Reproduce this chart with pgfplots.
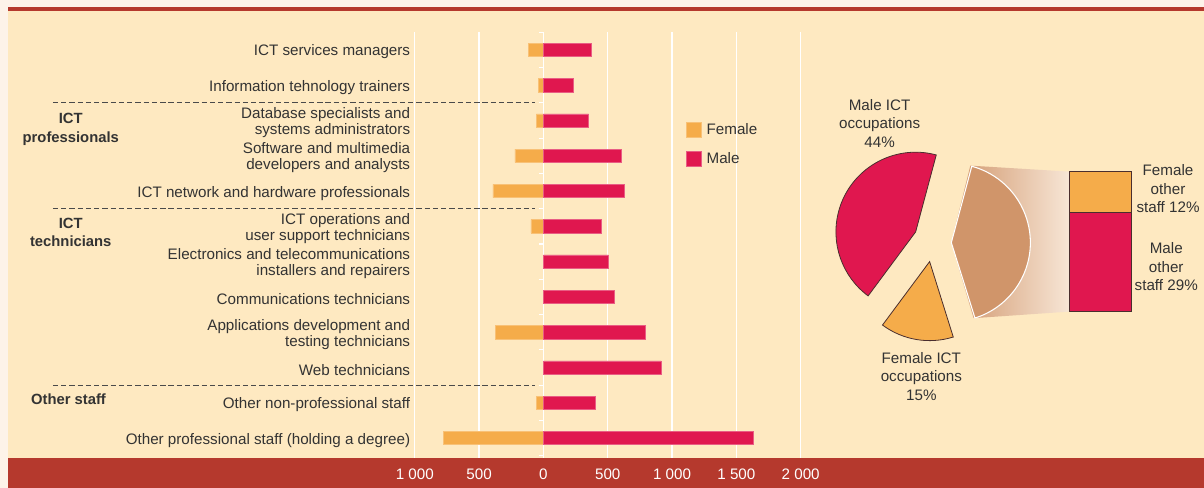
\documentclass[border=0pt]{standalone}
\usepackage{pgfplots}
\pgfplotsset{compat=1.18}
\usepackage{fontspec}
\setmainfont{Liberation Sans}
\definecolor{outerbg}{HTML}{FDF3E9}
\definecolor{panel}{HTML}{FEE9C1}
\definecolor{band}{HTML}{B5392D}
\definecolor{male}{HTML}{E0174F}
\definecolor{female}{HTML}{F5AC4A}
\definecolor{tanc}{HTML}{D0956A}
\definecolor{fadec}{HTML}{F7E6D6}
\definecolor{textc}{HTML}{333333}
\definecolor{dashc}{HTML}{4A4A4A}
\definecolor{outl}{HTML}{4A2E2E}
\newcommand\lbl{\fontsize{11.4}{11.8}\selectfont}
\newcommand\plbl{\fontsize{11.4}{13.8}\selectfont}
\newcommand\glbl{\bfseries\fontsize{11.1}{13.8}\selectfont}
% pie shares (%)
\def\pMaleICT{44}
\def\pFemaleICT{15}
\def\pOther{41}
\begin{document}
\begin{tikzpicture}
\pgfmathsetmacro\aStart{75}
\pgfmathsetmacro\aMaleEnd{\aStart+3.6*\pMaleICT}
\pgfmathsetmacro\aFemEnd{\aMaleEnd+3.6*\pFemaleICT}
\pgfmathsetmacro\aOthEnd{\aFemEnd+3.6*\pOther}
\begin{scope}[x=0.75pt,y=-0.75pt]
\path[use as bounding box] (0,0) rectangle (1204,488);
\fill[outerbg] (0,0) rectangle (1204,488);
\fill[panel] (8,11) rectangle (1204,458);
\fill[band] (8,458) rectangle (1204,488);
\fill[band] (8,7) rectangle (1204,11);
\coordinate (barsw) at (415,458);
\coordinate (pienw) at (800,0);
\coordinate (stacksw) at (1070,311.7);
\end{scope}

\begin{axis}[
  at={(barsw)}, anchor=south west,
  scale only axis, width=289.5pt, height=319.3pt,
  xmin=-1000, xmax=2000, ymin=0.5, ymax=12.56, y dir=reverse,
  enlargelimits=false, clip=false,
  axis line style={draw=none}, major tick length=0pt,
  xtick={-1000,-500,0,500,1000,1500,2000},
  xticklabels={1\ 000,500,0,500,1\ 000,1\ 500,2\ 000},
  xticklabel style={text=white, font=\lbl, anchor=center, yshift=-12.4pt},
  xmajorgrids, grid style={white, line width=1pt},
  ytick={1,...,12},
  yticklabels={{ICT services managers},{Information tehnology trainers},{Database specialists and\\systems administrators},{Software and multimedia\\developers and analysts},{ICT network and hardware professionals},{ICT operations and\\user support technicians},{Electronics and telecommunications\\installers and repairers},{Communications technicians},{Applications development and\\testing technicians},{Web technicians},{Other non-professional staff},{Other professional staff (holding a degree)}},
  yticklabel style={align=right, text=textc, font=\lbl, yshift=-1.6pt},
  xbar, bar width=10pt,
  legend image code/.code={\fill[#1] (0pt,-5.4pt) rectangle (11.2pt,5.4pt);},
  legend cell align=left,
  legend style={at={(axis cs:1105,3.0)}, anchor=north west, draw=none, fill=none,
    font=\lbl, text=textc, row sep=8pt, inner sep=0pt,
    /tikz/every odd column/.append style={column sep=2pt}},
]
\addplot[fill=female, draw=female!75!white, line width=0.4pt, bar shift=0pt]
  coordinates {(-115,1) (-40,2) (-55,3) (-222,4) (-393,5) (-97,6) (-374,9) (-54,11) (-780,12)};
\addlegendentry{Female}
\addplot[fill=male, draw=male!70!white, line width=0.4pt, bar shift=0pt]
  coordinates {(370,1) (234,2) (351,3) (603,4) (629,5) (450,6) (505,7) (548,8) (790,9) (914,10) (405,11) (1633,12)};
\addlegendentry{Male}
\pgfplotsinvokeforeach{0.5,1.5,...,12.5}{
  \draw[white, line width=0.8pt] (axis cs:-31,#1) -- (axis cs:0,#1);
}
\draw[dashc, line width=0.8pt, dash pattern=on 4pt off 2.2pt] (axis cs:-3815,2.5) -- (axis cs:-62,2.5);
\draw[dashc, line width=0.8pt, dash pattern=on 4pt off 2.2pt] (axis cs:-3815,5.5) -- (axis cs:-62,5.5);
\draw[dashc, line width=0.8pt, dash pattern=on 4pt off 2.2pt] (axis cs:-3815,10.5) -- (axis cs:-62,10.5);
\end{axis}

\begin{axis}[at={(pienw)}, anchor=north west, hide axis, scale only axis,
  x=0.75pt, y=0.75pt, y dir=reverse, xmin=800, xmax=1204, ymin=0, ymax=488, clip=false]
\shade[left color=tanc, right color=fadec] (axis cs:951.7,242.7) -- (axis cs:970.7,165.7) -- (axis cs:1070,171.7) -- (axis cs:1070,311.7) -- (axis cs:974,318.3) -- cycle;
\filldraw[fill=male, draw=outl, line width=0.6pt] (axis cs:916,232) -- ++(\aStart:59.8pt) arc[start angle=\aStart, end angle=\aMaleEnd, radius=59.8pt] -- cycle;
\filldraw[fill=female, draw=outl, line width=0.6pt] (axis cs:930,261.7) -- ++(\aMaleEnd:59.3pt) arc[start angle=\aMaleEnd, end angle=\aFemEnd, radius=59.3pt] -- cycle;
\filldraw[fill=tanc, draw=white, line width=0.8pt] (axis cs:951.7,242.7) -- ++(\aFemEnd:59.3pt) arc[start angle=\aFemEnd, end angle=\aOthEnd, radius=59.3pt] -- cycle;
\end{axis}

\begin{axis}[at={(stacksw)}, anchor=south west, hide axis, scale only axis,
  width=46.3pt, height=105pt, xmin=-0.5, xmax=0.5, ymin=0, ymax=41,
  ybar stacked, bar width=46.3pt, clip=false]
\addplot[fill=male, draw=outl, line width=0.6pt] coordinates {(0,29)};
\addplot[fill=female, draw=outl, line width=0.6pt] coordinates {(0,12)};
\end{axis}

\begin{scope}[x=0.75pt,y=-0.75pt]
\node[align=center, font=\glbl, text=textc] at (70.8,129.5) {ICT\\professionals};
\node[align=center, font=\glbl, text=textc] at (70.8,232.8) {ICT\\technicians};
\node[align=center, font=\glbl, text=textc] at (68.5,399.3) {Other staff};
\node[align=center, font=\plbl, text=textc] at (880,123.3) {Male ICT\\occupations\\44\%};
\node[align=center, font=\plbl, text=textc] at (921.7,376.7) {Female ICT\\occupations\\15\%};
\node[align=center, font=\plbl, text=textc] at (1168.5,189) {Female\\other\\staff 12\%};
\node[align=center, font=\plbl, text=textc] at (1166.7,266.7) {Male\\other\\staff 29\%};
\end{scope}
\end{tikzpicture}
\end{document}
